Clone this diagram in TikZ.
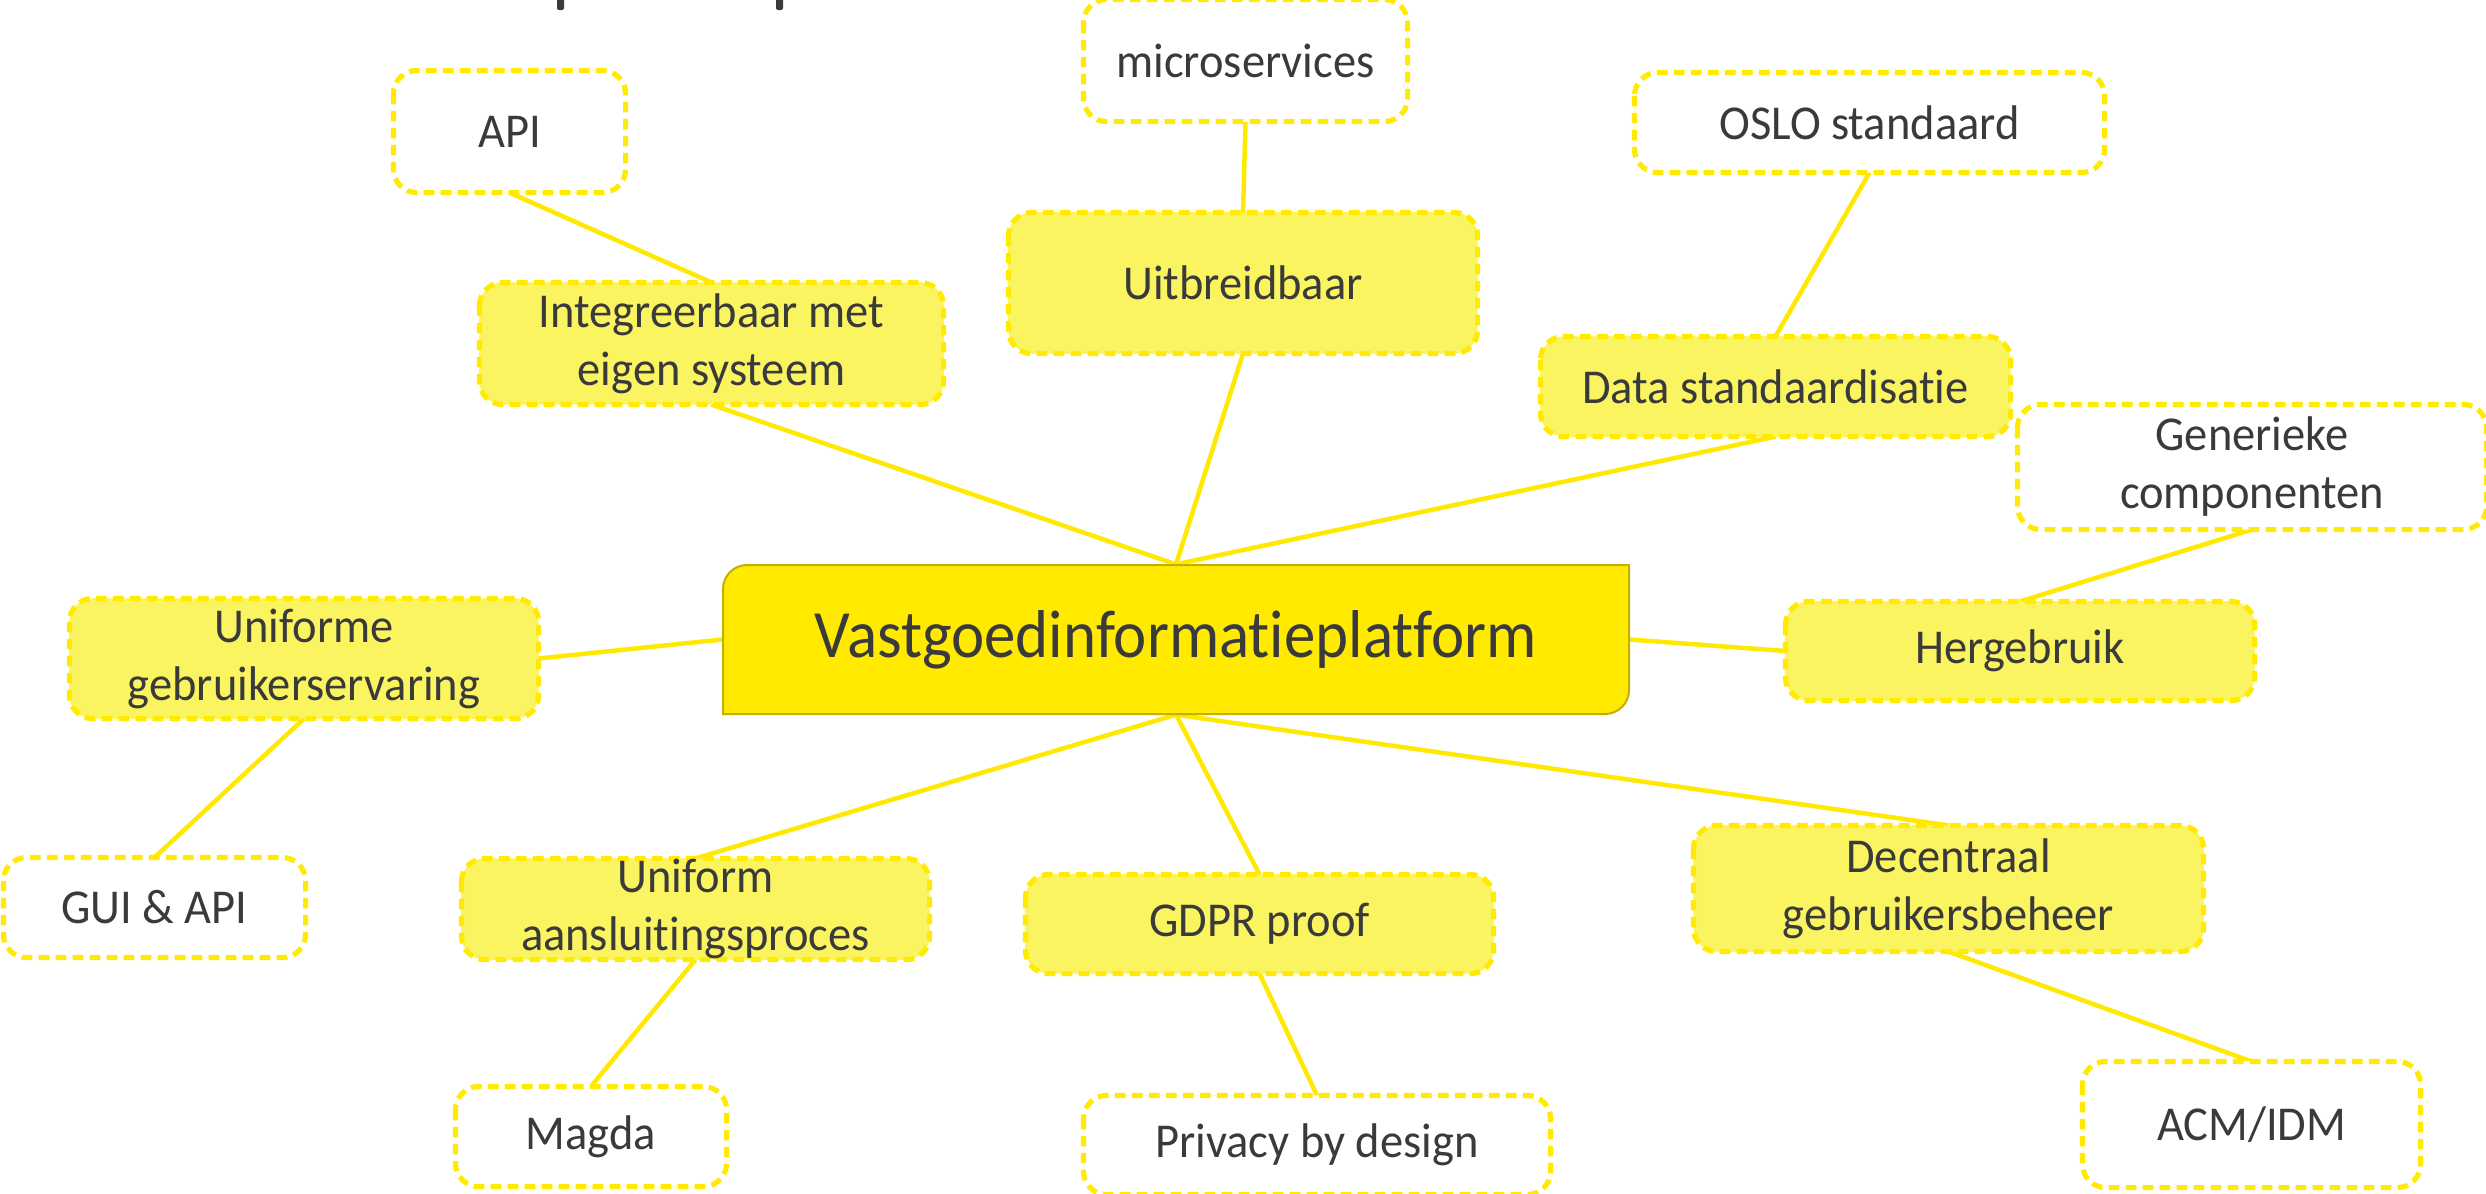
\documentclass[tikz,border=0pt]{standalone}
\usepackage{fontspec}
\setmainfont{Carlito}[Ligatures=NoCommon]
\newfontfamily\subfont{Carlito}[Ligatures=NoCommon, FakeStretch=0.955]
\newfontfamily\centfont{Carlito}[Ligatures=NoCommon, FakeStretch=0.93]
\definecolor{txtc}{HTML}{3A3A3A}
\definecolor{linec}{HTML}{FFE900}
\definecolor{dashc}{HTML}{FFEA00}
\definecolor{subfill}{HTML}{FBF461}
\definecolor{cfill}{HTML}{FFEA00}
\definecolor{cborder}{HTML}{C2B000}
\begin{document}
\begin{tikzpicture}[x=0.3pt,y=-0.3pt,
  sz/.style 2 args={minimum width=#1*0.3pt, minimum height=#2*0.3pt},
  anybox/.style={draw=dashc, line width=1.55pt, dash pattern=on 3.2pt off 1.9pt,
    rounded corners=7pt, inner sep=0pt},
  subbox/.style={anybox, fill=subfill},
  leafbox/.style={anybox, fill=white},
  txt/.style={text=txtc, font=\subfont\fontsize{14.6pt}{17.4pt}\selectfont, align=center, inner sep=0pt},
  conn/.style={draw=linec, line width=1.35pt}]
\useasboundingbox (0,0) rectangle (2486,1193);

% cut-off title fragments
\fill[txtc, rounded corners=0.6pt] (557,-3) rectangle (564,10);
\fill[txtc, rounded corners=0.6pt] (776,-3) rectangle (783,10);

% central node (placement only)
\node[sz={906}{149}, inner sep=0pt] (central) at (1176,639.5) {};

% boxes (placement)
\node[leafbox, sz={227}{117}] (api) at (509.5,131.5) {};
\node[leafbox, sz={319}{117}] (micro) at (1245.5,60.5) {};
\node[subbox, sz={459}{117}] (integ) at (711.5,343.5) {};
\node[subbox, sz={464}{136}] (uitb) at (1243,283) {};
\node[leafbox, sz={465}{95}] (oslo) at (1869.5,122.5) {};
\node[subbox, sz={465}{95}] (data) at (1775.5,386.5) {};
\node[leafbox, sz={464}{120}] (gener) at (2252,467) {};
\node[subbox, sz={464}{94}] (herg) at (2020,651) {};
\node[subbox, sz={464}{115}] (unifge) at (304,658.5) {};
\node[leafbox, sz={297}{95}] (gui) at (154.5,907.5) {};
\node[subbox, sz={463}{96}] (unifaa) at (695.5,909) {};
\node[leafbox, sz={266}{95}] (magda) at (591,1136.5) {};
\node[subbox, sz={463}{94}] (gdpr) at (1259.5,924) {};
\node[leafbox, sz={462}{94}] (privacy) at (1317,1145) {};
\node[subbox, sz={505}{121}] (decen) at (1948.5,888.5) {};
\node[leafbox, sz={333}{121}] (acm) at (2251.5,1124.5) {};

% connectors
\path[conn] (api.south) -- (integ.north)
  (integ.south) -- (central.north)
  (micro.south) -- (uitb.north)
  (uitb.south) -- (central.north)
  (oslo.south) -- (data.north)
  (data.south) -- (central.north)
  (gener.south) -- (herg.north)
  (central.east) -- (herg.west)
  (central.west) -- (unifge.east)
  (unifge.south) -- (gui.north)
  (central.south) -- (unifaa.north)
  (unifaa.south) -- (magda.north)
  (central.south) -- (gdpr.north)
  (gdpr.south) -- (privacy.north)
  (central.south) -- (decen.north)
  (decen.south) -- (acm.north);

% redraw boxes on top of connectors
\foreach \n/\s in {api/leafbox, micro/leafbox, integ/subbox, uitb/subbox, oslo/leafbox,
  data/subbox, gener/leafbox, herg/subbox, unifge/subbox, gui/leafbox, unifaa/subbox,
  magda/leafbox, gdpr/subbox, privacy/leafbox, decen/subbox, acm/leafbox}
  \path[\s] (\n.north west) rectangle (\n.south east);

% central shape
\path[fill=cfill, draw=cborder, line width=0.6pt]
  (723,714) -- (723,589) .. controls (723,575.75) and (733.75,565) .. (747,565)
  -- (1629,565) -- (1629,690) .. controls (1629,703.25) and (1618.25,714) .. (1605,714)
  -- cycle;
\node[text=txtc, font=\centfont\fontsize{20.3pt}{24pt}\selectfont, inner sep=0pt] (central-t) at (central.center) {Vastgoedinformatieplatform};

% texts
\node[txt] (api-t) at (api.center) {API};
\node[txt] (micro-t) at (micro.center) {microservices};
\node[txt] (integ-t) at (integ.center) {Integreerbaar met\\eigen systeem};
\node[txt] (uitb-t) at (uitb.center) {Uitbreidbaar};
\node[txt] (oslo-t) at (oslo.center) {OSLO standaard};
\node[txt] (data-t) at (data.center) {Data standaardisatie};
\node[txt] (gener-t) at (gener.center) {Generieke\\componenten};
\node[txt] (herg-t) at (herg.center) {Hergebruik};
\node[txt] (unifge-t) at (unifge.center) {Uniforme\\gebruikerservaring};
\node[txt] (gui-t) at (gui.center) {GUI \& API};
\node[txt] (unifaa-t) at (unifaa.center) {Uniform\\aansluitingsproces};
\node[txt] (magda-t) at (magda.center) {Magda};
\node[txt] (gdpr-t) at (gdpr.center) {GDPR proof};
\node[txt] (privacy-t) at (privacy.center) {Privacy by design};
\node[txt] (decen-t) at (decen.center) {Decentraal\\gebruikersbeheer};
\node[txt] (acm-t) at (acm.center) {ACM/IDM};
\end{tikzpicture}
\end{document}
